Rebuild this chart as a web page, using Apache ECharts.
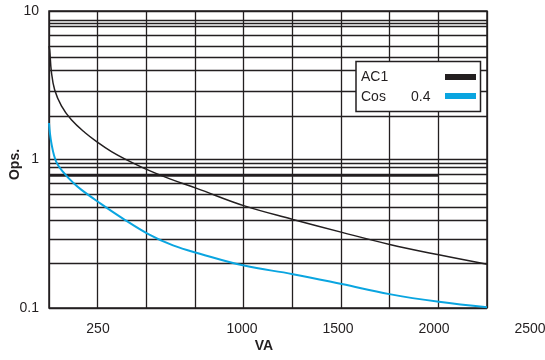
<!DOCTYPE html>
<html>
<head>
<meta charset="utf-8">
<script src="https://cdn.jsdelivr.net/npm/echarts@6/dist/echarts.min.js"></script>
<style>html,body{margin:0;padding:0;background:#fff}#c{width:545px;height:360px}</style>
</head>
<body>
<div id="c"></div>
<script>
// ---- data ----
const acVA  = [0, 3.6, 12.3, 29.3, 63.8, 115, 184, 252, 321, 389, 501, 621, 759, 1004, 1253, 1505, 1750, 2002, 2250];
const acOps = [5.8, 5.47, 3.89, 2.94, 2.30, 1.85, 1.52, 1.30, 1.13, 1.01, 0.858, 0.74, 0.639, 0.487, 0.395, 0.323, 0.268, 0.228, 0.197];
const cosVA  = [0, 12.3, 38, 81, 123, 167, 252, 374, 508, 637, 775, 1002, 1253, 1504, 1749, 2003, 2250];
const cosOps = [1.76, 1.29, 0.96, 0.80, 0.70, 0.624, 0.519, 0.405, 0.316, 0.264, 0.232, 0.193, 0.169, 0.145, 0.124, 0.110, 0.101];
const xTickLabels = [250, 1000, 1500, 2000, 2500];
const yTickLabels = [0.1, 1, 10];
const gridLinesY = [8.7, 8.27, 7.84, 6.82, 5.75, 4.85, 3.97, 2.89, 1.97,
                    0.935, 0.889, 0.789, 0.686, 0.579, 0.483, 0.394, 0.288, 0.198];
const heavyLineY = 0.789;
const heavyLineEndVA = 2000;
const legendNames = ['AC1', 'Cos'];
const legendValue = '0.4';

const INK = '#231f20';
const BLUE = '#0aa5e0';
const FONT = 'Liberation Sans, Arial, Helvetica, sans-serif';

const chart = echarts.init(document.getElementById('c'), null, {renderer: 'canvas'});

const markData = gridLinesY.map(v => ({yAxis: v}));
markData.push([{coord: [0, heavyLineY], lineStyle: {width: 2.6, color: INK}},
               {coord: [heavyLineEndVA, heavyLineY]}]);

chart.setOption({
  animation: false,
  backgroundColor: '#fff',
  grid: [
    {left: 49, right: 58, top: 11, bottom: 52, show: true, borderColor: INK, borderWidth: 1.5,
     backgroundColor: 'transparent', containLabel: false, outerBoundsMode: 'none'},
    {left: 50, width: 480, top: 11, bottom: 52, containLabel: false, outerBoundsMode: 'none'}
  ],
  xAxis: [
    {
      type: 'value', gridIndex: 0, min: 0, max: 2250, interval: 250,
      axisLine: {show: false}, axisTick: {show: false}, axisLabel: {show: false},
      splitLine: {show: true, lineStyle: {color: INK, width: 1.3}},
      name: 'VA', nameLocation: 'middle', nameGap: 31, nameMoveOverlap: false,
      nameTextStyle: {fontFamily: FONT, fontSize: 14, fontWeight: 'bold', color: INK, padding: [0, 8, 0, 0]}
    },
    {
      type: 'value', gridIndex: 1, min: 0, max: 2500, interval: 250,
      axisLine: {show: false}, axisTick: {show: false}, splitLine: {show: false},
      axisLabel: {
        show: true, margin: 14, fontFamily: FONT, fontSize: 14, color: INK,
        formatter: v => xTickLabels.indexOf(v) >= 0 ? String(v) : ''
      }
    }
  ],
  yAxis: [
    {
      type: 'log', logBase: 10, gridIndex: 0, min: 0.1, max: 10,
      axisLine: {show: false}, axisTick: {show: false},
      axisLabel: {
        margin: 10, fontFamily: FONT, fontSize: 14, color: INK,
        formatter: v => {
          const hit = yTickLabels.find(t => Math.abs(t - v) / t < 1e-6);
          return hit !== undefined ? String(hit) : '';
        }
      },
      splitLine: {show: true, lineStyle: {color: INK, width: 1.3}},
      name: 'Ops.', nameLocation: 'middle', nameGap: 27, nameRotate: 90, nameMoveOverlap: false,
      nameTextStyle: {fontFamily: FONT, fontSize: 14, fontWeight: 'bold', color: INK, padding: [0, 10, 0, 0]}
    },
    {type: 'value', gridIndex: 1, show: false, min: 0, max: 1}
  ],
  series: [
    {
      name: 'grid', type: 'line', xAxisIndex: 0, yAxisIndex: 0, data: [], z: 1, silent: true,
      markLine: {
        silent: true, symbol: 'none', label: {show: false}, animation: false,
        lineStyle: {type: 'solid', color: INK, width: 1.3},
        emphasis: {disabled: true},
        data: markData
      }
    },
    {
      name: 'AC1', type: 'line', xAxisIndex: 0, yAxisIndex: 0, z: 5,
      data: acVA.map((x, i) => [x, acOps[i]]),
      showSymbol: false, symbol: 'none', smooth: 0.4,
      lineStyle: {color: INK, width: 1.5}
    },
    {
      name: 'Cos 0.4', type: 'line', xAxisIndex: 0, yAxisIndex: 0, z: 5,
      data: cosVA.map((x, i) => [x, cosOps[i]]),
      showSymbol: false, symbol: 'none', smooth: 0.4,
      lineStyle: {color: BLUE, width: 2}
    }
  ],
  graphic: [
    {type: 'rect', z: 10, shape: {x: 356, y: 61.5, width: 124.5, height: 50},
     style: {fill: '#fff', stroke: INK, lineWidth: 1.5}},
    {type: 'text', z: 11, x: 361, y: 77, style: {text: legendNames[0], font: '14px ' + FONT, fill: INK, verticalAlign: 'middle'}},
    {type: 'text', z: 11, x: 361, y: 97, style: {text: legendNames[1], font: '14px ' + FONT, fill: INK, verticalAlign: 'middle'}},
    {type: 'text', z: 11, x: 411, y: 97, style: {text: legendValue, font: '14px ' + FONT, fill: INK, verticalAlign: 'middle'}},
    {type: 'rect', z: 11, shape: {x: 445, y: 74, width: 31, height: 6}, style: {fill: INK}},
    {type: 'rect', z: 11, shape: {x: 445, y: 93, width: 31, height: 6}, style: {fill: BLUE}}
  ]
});
</script>
</body>
</html>
